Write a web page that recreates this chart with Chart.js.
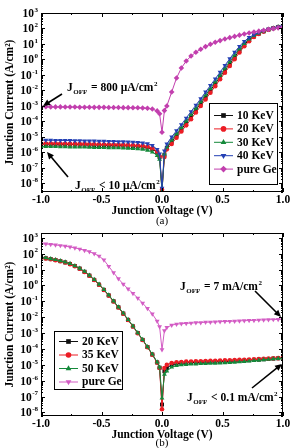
<!DOCTYPE html>
<html>
<head>
<meta charset="utf-8">
<script src="https://cdn.jsdelivr.net/npm/chart.js@4.4.1/dist/chart.umd.min.js"></script>
<style>
  html, body { margin: 0; padding: 0; background: #fff; }
  #wrap { position: relative; width: 290px; height: 448px; overflow: hidden; }
  canvas { position: absolute; left: 0; }
  #chartA { top: 0; }
  #chartB { top: 224px; }
</style>
</head>
<body>
<div id="wrap">
  <canvas id="chartA" width="290" height="234"></canvas>
  <canvas id="chartB" width="290" height="224"></canvas>
</div>
<script>
// junction voltage (V), shared by every series
const voltage = [-1, -0.96, -0.92, -0.88, -0.84, -0.8, -0.76, -0.72, -0.68, -0.64, -0.6, -0.56, -0.52,
  -0.48, -0.44, -0.4, -0.36, -0.32, -0.28, -0.24, -0.2, -0.16, -0.12, -0.08, -0.04, -0.02, 0, 0.02,
  0.04, 0.08, 0.12, 0.16, 0.2, 0.24, 0.28, 0.32, 0.36, 0.4, 0.44, 0.48, 0.52, 0.56, 0.6, 0.64, 0.68,
  0.72, 0.76, 0.8, 0.84, 0.88, 0.92, 0.96, 1];

// panel (a): log10 of junction current density (A/cm2)
const logA10 = [-5.46, -5.46, -5.47, -5.47, -5.48, -5.48, -5.49, -5.49, -5.5, -5.5, -5.51, -5.52, -5.52,
  -5.53, -5.54, -5.54, -5.55, -5.56, -5.57, -5.58, -5.6, -5.63, -5.68, -5.78, -6.0, -6.3, -8.45, -6.15,
  -5.7, -5.3, -4.9, -4.5, -4.1, -3.68, -3.26, -2.84, -2.42, -2.0, -1.57, -1.14, -0.7, -0.27, 0.16, 0.58,
  0.95, 1.26, 1.5, 1.68, 1.82, 1.93, 2.02, 2.1, 2.17];
const logA20 = [-5.42, -5.42, -5.43, -5.43, -5.44, -5.44, -5.45, -5.45, -5.46, -5.46, -5.47, -5.47, -5.48,
  -5.49, -5.49, -5.5, -5.51, -5.52, -5.53, -5.54, -5.56, -5.59, -5.64, -5.74, -5.95, -6.25, -8.4, -6.3,
  -5.8, -5.45, -5.05, -4.65, -4.25, -3.85, -3.42, -3.0, -2.58, -2.15, -1.72, -1.28, -0.85, -0.42, 0.02,
  0.45, 0.85, 1.18, 1.45, 1.65, 1.8, 1.92, 2.02, 2.1, 2.16];
const logA30 = [-5.62, -5.62, -5.63, -5.63, -5.64, -5.64, -5.65, -5.65, -5.66, -5.66, -5.67, -5.68, -5.68,
  -5.69, -5.7, -5.7, -5.71, -5.72, -5.73, -5.75, -5.77, -5.8, -5.86, -5.97, -6.2, -6.45, -8.5, -6.1,
  -5.65, -5.2, -4.8, -4.4, -3.98, -3.56, -3.15, -2.73, -2.3, -1.88, -1.45, -1.02, -0.58, -0.15, 0.28,
  0.68, 1.03, 1.32, 1.54, 1.7, 1.83, 1.94, 2.03, 2.11, 2.18];
const logA40 = [-5.2, -5.21, -5.21, -5.22, -5.22, -5.23, -5.23, -5.24, -5.24, -5.25, -5.25, -5.26, -5.27,
  -5.27, -5.28, -5.29, -5.3, -5.31, -5.32, -5.33, -5.35, -5.38, -5.43, -5.55, -5.8, -6.1, -8.3, -5.9,
  -5.45, -5.0, -4.6, -4.2, -3.78, -3.36, -2.95, -2.53, -2.1, -1.68, -1.25, -0.82, -0.38, 0.05, 0.47,
  0.85, 1.17, 1.42, 1.6, 1.74, 1.86, 1.95, 2.03, 2.1, 2.17];
const logAGe = [-3.05, -3.05, -3.06, -3.06, -3.06, -3.07, -3.07, -3.07, -3.08, -3.08, -3.08, -3.09, -3.09,
  -3.09, -3.1, -3.1, -3.1, -3.11, -3.11, -3.12, -3.12, -3.13, -3.15, -3.2, -3.32, -3.5, -4.7, -3.3,
  -3.0, -2.1, -1.2, -0.55, -0.1, 0.22, 0.47, 0.66, 0.83, 0.98, 1.11, 1.22, 1.32, 1.41, 1.49, 1.57,
  1.64, 1.71, 1.77, 1.83, 1.89, 1.94, 1.99, 2.04, 2.09];

// panel (b)
const logB20 = [1.75, 1.71, 1.66, 1.6, 1.53, 1.45, 1.35, 1.22, 1.06, 0.86, 0.62, 0.35, 0.05, -0.28, -0.63,
  -1.0, -1.38, -1.77, -2.17, -2.58, -3.0, -3.43, -3.88, -4.35, -4.85, -5.18, -7.5, -5.4,
  -5.2, -5.0, -4.93, -4.9, -4.88, -4.86, -4.85, -4.84, -4.83, -4.82, -4.81, -4.8, -4.79, -4.78, -4.76,
  -4.75, -4.73, -4.71, -4.69, -4.67, -4.65, -4.63, -4.61, -4.59, -4.57];
const logB35 = [1.74, 1.7, 1.65, 1.59, 1.52, 1.44, 1.34, 1.21, 1.05, 0.85, 0.61, 0.34, 0.04, -0.29, -0.64,
  -1.01, -1.39, -1.78, -2.18, -2.59, -3.01, -3.44, -3.89, -4.36, -4.86, -5.2, -7.8, -5.2,
  -5.0, -4.88, -4.84, -4.82, -4.8, -4.79, -4.78, -4.77, -4.76, -4.75, -4.74, -4.73, -4.72, -4.71, -4.7,
  -4.69, -4.68, -4.67, -4.65, -4.64, -4.62, -4.61, -4.59, -4.58, -4.56];
const logB50 = [1.77, 1.73, 1.68, 1.62, 1.55, 1.47, 1.37, 1.24, 1.08, 0.88, 0.64, 0.37, 0.07, -0.26, -0.61,
  -0.98, -1.36, -1.75, -2.15, -2.56, -2.98, -3.41, -3.86, -4.33, -4.83, -5.15, -7.1, -5.6,
  -5.4, -5.15, -5.05, -5.0, -4.98, -4.96, -4.95, -4.93, -4.92, -4.91, -4.9, -4.89, -4.87, -4.86, -4.84,
  -4.82, -4.8, -4.77, -4.74, -4.72, -4.69, -4.66, -4.63, -4.6, -4.58];
const logBGe = [2.63, 2.61, 2.58, 2.55, 2.51, 2.47, 2.42, 2.36, 2.29, 2.21, 2.12, 2.0, 1.85, 1.6, 1.2,
  0.8, 0.42, 0.08, -0.22, -0.5, -0.8, -1.12, -1.45, -1.8, -2.25, -2.6, -4.05, -2.85,
  -2.65, -2.5, -2.44, -2.41, -2.39, -2.37, -2.35, -2.34, -2.32, -2.31, -2.3, -2.28, -2.27, -2.26, -2.25,
  -2.23, -2.22, -2.21, -2.2, -2.18, -2.17, -2.16, -2.15, -2.14, -2.13];

const xTicks = [-1, -0.5, 0, 0.5, 1];
const FONT = "'Liberation Serif', 'Times New Roman', serif";

function series(label, logs, color, style, rotation, radius, order) {
  return {
    label,
    data: voltage.map((v, i) => ({x: v, y: Math.pow(10, logs[i])})),
    borderColor: color,
    backgroundColor: color,
    pointBackgroundColor: color,
    pointBorderColor: color,
    pointBorderWidth: 0,
    borderWidth: 1,
    pointStyle: style,
    pointRotation: rotation,
    pointRadius: radius,
    tension: 0,
    clip: 0,
    order
  };
}

function arrow(ctx, x1, y1, x2, y2) {
  const a = Math.atan2(y2 - y1, x2 - x1);
  const hl = 7, hw = 3.2;
  ctx.save();
  ctx.strokeStyle = '#000';
  ctx.fillStyle = '#000';
  ctx.lineWidth = 1.6;
  ctx.beginPath();
  ctx.moveTo(x1, y1);
  ctx.lineTo(x2 - Math.cos(a) * hl * 0.8, y2 - Math.sin(a) * hl * 0.8);
  ctx.stroke();
  ctx.beginPath();
  ctx.moveTo(x2, y2);
  ctx.lineTo(x2 - Math.cos(a) * hl - Math.sin(a) * hw, y2 - Math.sin(a) * hl + Math.cos(a) * hw);
  ctx.lineTo(x2 - Math.cos(a) * hl + Math.sin(a) * hw, y2 - Math.sin(a) * hl - Math.cos(a) * hw);
  ctx.closePath();
  ctx.fill();
  ctx.restore();
}

function drawJoff(ctx, x, y, rest) {
  ctx.save();
  ctx.fillStyle = '#000';
  ctx.textAlign = 'left';
  ctx.textBaseline = 'alphabetic';
  ctx.font = 'bold 11.5px ' + FONT;
  ctx.fillText('J', x, y + 4);
  let w = ctx.measureText('J').width + 0.5;
  ctx.font = 'bold 7px ' + FONT;
  ctx.fillText('OFF', x + w, y + 7);
  w += ctx.measureText('OFF').width + 1;
  ctx.font = 'bold 11.5px ' + FONT;
  ctx.fillText(rest, x + w, y + 4);
  w += ctx.measureText(rest).width + 0.5;
  ctx.font = 'bold 7px ' + FONT;
  ctx.fillText('2', x + w, y - 1);
  ctx.restore();
}

const framePlugin = {
  id: 'frame',
  afterDatasetsDraw(chart, args, opts) {
    const {ctx, chartArea: ca, scales: {x, y}} = chart;
    ctx.save();
    ctx.strokeStyle = '#000';
    ctx.lineWidth = 1;
    ctx.strokeRect(ca.left + 0.5, ca.top + 0.5, ca.right - ca.left - 1, ca.bottom - ca.top - 1);

    // inward ticks
    ctx.beginPath();
    for (let v = -1; v <= 1.001; v += 0.25) {
      const px = Math.round(x.getPixelForValue(v)) + 0.5;
      const len = Math.abs(v * 2 - Math.round(v * 2)) < 1e-6 ? 4 : 2;
      ctx.moveTo(px, ca.bottom); ctx.lineTo(px, ca.bottom - len);
      ctx.moveTo(px, ca.top); ctx.lineTo(px, ca.top + len);
    }
    const pMin = Math.floor(Math.log10(y.min)), pMax = Math.ceil(Math.log10(y.max));
    for (let p = pMin; p <= pMax; p++) {
      for (let m = 1; m <= 9; m++) {
        const val = m * Math.pow(10, p);
        if (val < y.min || val > y.max) continue;
        const py = Math.round(y.getPixelForValue(val)) + 0.5;
        const len = m === 1 ? 4 : 2;
        ctx.moveTo(ca.left, py); ctx.lineTo(ca.left + len, py);
        ctx.moveTo(ca.right, py); ctx.lineTo(ca.right - len, py);
      }
    }
    ctx.stroke();

    // tick labels
    ctx.fillStyle = '#000';
    ctx.textBaseline = 'middle';
    for (let p = Math.ceil(Math.log10(y.min)); p <= Math.floor(Math.log10(y.max)); p++) {
      const py = y.getPixelForValue(Math.pow(10, p));
      ctx.font = 'bold 11.5px ' + FONT;
      const wb = ctx.measureText('10').width;
      ctx.font = 'bold 7px ' + FONT;
      const we = ctx.measureText(String(p)).width;
      const xs = ca.left - 3 - wb - we - 0.5;
      ctx.textAlign = 'left';
      ctx.font = 'bold 11.5px ' + FONT;
      ctx.fillText('10', xs, py + 1);
      ctx.font = 'bold 7px ' + FONT;
      ctx.fillText(String(p), xs + wb + 0.5, py - 3);
    }
    ctx.font = 'bold 11.5px ' + FONT;
    ctx.textAlign = 'center';
    xTicks.forEach((v) => {
      ctx.fillText(v.toFixed(1), x.getPixelForValue(v), ca.bottom + 8);
    });
    const cx = (ca.left + ca.right) / 2;
    ctx.fillText('Junction Voltage (V)', cx, ca.bottom + 19);
    ctx.font = '11px ' + FONT;
    ctx.fillText(opts.panel, cx, ca.bottom + opts.panelGap);

    ctx.save();
    ctx.translate(10, (ca.top + ca.bottom) / 2);
    ctx.rotate(-Math.PI / 2);
    ctx.font = 'bold 11.5px ' + FONT;
    ctx.fillText('Junction Current (A/cm\u00b2)', 0, 0);
    ctx.restore();

    // legend
    const lg = opts.legend;
    ctx.fillStyle = '#fff';
    ctx.fillRect(lg.x, lg.y, lg.w, lg.h);
    ctx.strokeStyle = '#000';
    ctx.lineWidth = 1;
    ctx.strokeRect(lg.x + 0.5, lg.y + 0.5, lg.w, lg.h);
    lg.items.forEach((idx, k) => {
      const ds = chart.data.datasets[idx];
      const iy = lg.y + lg.first + k * lg.step;
      ctx.strokeStyle = ds.borderColor;
      ctx.beginPath();
      ctx.moveTo(lg.x + 5, iy + 0.5);
      ctx.lineTo(lg.x + 24, iy + 0.5);
      ctx.stroke();
      ctx.fillStyle = ds.pointBackgroundColor;
      Chart.helpers.drawPoint(ctx, {
        pointStyle: ds.pointStyle, rotation: ds.pointRotation, radius: ds.pointRadius + 0.5, borderWidth: 0
      }, lg.x + 14.5, iy + 0.5);
      ctx.fillStyle = '#000';
      ctx.font = 'bold 11.5px ' + FONT;
      ctx.textAlign = 'left';
      ctx.textBaseline = 'middle';
      ctx.fillText(ds.label, lg.x + 28, iy + 1);
    });

    // annotations
    opts.notes.forEach((n) => {
      drawJoff(ctx, n.tx, n.ty, n.text);
      arrow(ctx, n.a[0], n.a[1], n.a[2], n.a[3]);
    });
    ctx.restore();
  }
};

function makeChart(id, datasets, yMin, yMax, padTop, padBottom, frameOpts) {
  return new Chart(document.getElementById(id), {
    type: 'line',
    data: {datasets},
    options: {
      responsive: false,
      animation: false,
      devicePixelRatio: 1,
      events: [],
      layout: {padding: {left: 41, right: 7, top: padTop, bottom: padBottom}},
      plugins: {legend: {display: false}, tooltip: {enabled: false}, frame: frameOpts},
      scales: {
        x: {type: 'linear', min: -1, max: 1, display: false},
        y: {type: 'logarithmic', min: yMin, max: yMax, display: false}
      }
    },
    plugins: [framePlugin]
  });
}

const RED = '#ec1c24', GREEN = '#14893a', BLUE = '#2440b4', BLACK = '#111111';

makeChart('chartA', [
  series('10 KeV', logA10, BLACK, 'rect', 0, 2.8, 5),
  series('20 KeV', logA20, RED, 'circle', 0, 2.3, 4),
  series('30 KeV', logA30, GREEN, 'triangle', 0, 2.8, 3),
  series('40 KeV', logA40, BLUE, 'triangle', 180, 2.8, 2),
  series('pure Ge', logAGe, '#c23fae', 'rectRot', 0, 2.8, 1)
], 2.8e-9, 1000, 13, 42, {
  panel: '(a)',
  panelGap: 29,
  legend: {x: 209, y: 103, w: 68, h: 81, first: 12, step: 13.4, items: [0, 1, 2, 3, 4]},
  notes: [
    {tx: 67, ty: 87, text: ' = 800 \u03bcA/cm', a: [62, 94, 43, 106]},
    {tx: 75, ty: 185, text: ' < 10 \u03bcA/cm', a: [68, 177, 47, 152]}
  ]
});

makeChart('chartB', [
  series('20 KeV', logB20, BLACK, 'rect', 0, 2.8, 4),
  series('35 KeV', logB35, RED, 'circle', 0, 2.3, 3),
  series('50 KeV', logB50, GREEN, 'triangle', 0, 2.8, 2),
  series('pure Ge', logBGe, '#d35cc4', 'triangle', 180, 2.8, 1)
], 6e-9, 2000, 9, 32, {
  panel: '(b)',
  panelGap: 27,
  legend: {x: 54, y: 107, w: 68, h: 58, first: 10, step: 13.5, items: [0, 1, 2, 3]},
  notes: [
    {tx: 180, ty: 62, text: ' = 7 mA/cm', a: [255, 67, 281, 93]},
    {tx: 187, ty: 173, text: ' < 0.1 mA/cm', a: [252, 164, 282, 140]}
  ]
});
</script>
</body>
</html>
